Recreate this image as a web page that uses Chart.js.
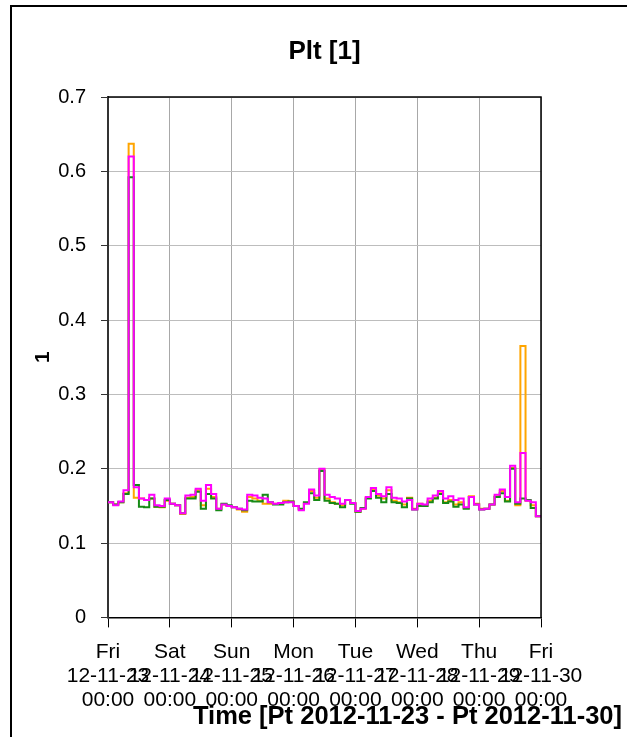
<!DOCTYPE html>
<html lang="en">
<head>
<meta charset="UTF-8">
<title>Plt [1]</title>
<script src="https://cdn.jsdelivr.net/npm/chart.js"></script>
<style>
    body {
        margin: 0;
        padding: 0;
        background: #fff;
        font-family: "Liberation Sans", Arial, sans-serif;
    }
    .frame {
        position: absolute;
        left: 10px;
        top: 5px;
        width: 700px;
        height: 800px;
        border-left: 2px solid #000;
        border-top: 2px solid #000;
    }
    #pltChart {
        position: absolute;
        left: 0;
        top: 0;
    }
</style>
</head>
<body>

<div class="frame"></div>
<canvas id="pltChart" width="627" height="737"></canvas>

<script>
    // x axis: one tick per day, hours since Fri 2012-11-23 00:00
    const dayNames = ['Fri', 'Sat', 'Sun', 'Mon', 'Tue', 'Wed', 'Thu', 'Fri'];
    const dayDates = ['12-11-23', '12-11-24', '12-11-25', '12-11-26', '12-11-27', '12-11-28', '12-11-29', '12-11-30'];
    const dayTimes = ['00:00', '00:00', '00:00', '00:00', '00:00', '00:00', '00:00', '00:00'];
    const stepHours = 2; // Plt is computed every 2 hours

    // Plt values per 2h interval (84 intervals)
    const pltOrange = [
        0.155, 0.152, 0.155, 0.167, 0.637, 0.161, 0.160, 0.158, 0.160, 0.149, 0.148, 0.157,
        0.153, 0.151, 0.139, 0.161, 0.162, 0.171, 0.151, 0.173, 0.162, 0.146, 0.152, 0.150,
        0.148, 0.145, 0.142, 0.162, 0.160, 0.157, 0.153, 0.153, 0.153, 0.153, 0.157, 0.156,
        0.150, 0.145, 0.154, 0.170, 0.161, 0.199, 0.160, 0.155, 0.153, 0.151, 0.158, 0.154,
        0.142, 0.146, 0.161, 0.172, 0.164, 0.160, 0.171, 0.157, 0.155, 0.152, 0.161, 0.146,
        0.153, 0.151, 0.157, 0.161, 0.169, 0.155, 0.158, 0.152, 0.155, 0.147, 0.163, 0.153,
        0.146, 0.146, 0.152, 0.163, 0.170, 0.157, 0.201, 0.151, 0.365, 0.157, 0.151, 0.136
    ];
    const pltMagenta = [
        0.155, 0.151, 0.156, 0.171, 0.620, 0.175, 0.160, 0.158, 0.165, 0.151, 0.150, 0.160,
        0.153, 0.151, 0.140, 0.164, 0.165, 0.173, 0.157, 0.178, 0.166, 0.146, 0.152, 0.150,
        0.148, 0.146, 0.145, 0.165, 0.164, 0.161, 0.160, 0.155, 0.153, 0.154, 0.155, 0.155,
        0.150, 0.144, 0.153, 0.172, 0.164, 0.200, 0.165, 0.162, 0.160, 0.153, 0.158, 0.154,
        0.143, 0.146, 0.162, 0.174, 0.166, 0.163, 0.175, 0.161, 0.160, 0.156, 0.158, 0.145,
        0.153, 0.152, 0.160, 0.164, 0.170, 0.160, 0.163, 0.158, 0.160, 0.148, 0.162, 0.152,
        0.145, 0.146, 0.152, 0.165, 0.172, 0.162, 0.204, 0.155, 0.221, 0.157, 0.155, 0.136
    ];
    const pltGreen = [
        0.155, 0.152, 0.155, 0.166, 0.592, 0.178, 0.149, 0.148, 0.160, 0.149, 0.149, 0.158,
        0.153, 0.151, 0.140, 0.160, 0.160, 0.169, 0.146, 0.166, 0.160, 0.144, 0.153, 0.151,
        0.148, 0.146, 0.144, 0.157, 0.156, 0.156, 0.165, 0.155, 0.152, 0.152, 0.155, 0.156,
        0.150, 0.146, 0.155, 0.167, 0.158, 0.197, 0.157, 0.154, 0.153, 0.148, 0.158, 0.153,
        0.142, 0.147, 0.160, 0.170, 0.161, 0.155, 0.166, 0.155, 0.154, 0.148, 0.160, 0.145,
        0.150, 0.150, 0.155, 0.160, 0.166, 0.154, 0.156, 0.149, 0.152, 0.146, 0.162, 0.152,
        0.145, 0.146, 0.152, 0.162, 0.167, 0.156, 0.200, 0.153, 0.160, 0.158, 0.147, 0.136
    ];

    const fontFamily = '"Liberation Sans", Arial, sans-serif';

    // value i holds from i*stepHours until the next interval; repeat the last one to close the week
    function toSteps(values) {
        const pts = values.map((v, i) => ({ x: i * stepHours, y: v }));
        pts.push({ x: values.length * stepHours, y: values[values.length - 1] });
        return pts;
    }

    // black box on the top and right sides of the plot area
    const plotFrame = {
        id: 'plotFrame',
        afterDraw(chart) {
            const { ctx, chartArea } = chart;
            ctx.save();
            ctx.strokeStyle = '#000';
            ctx.lineWidth = 1.5;
            ctx.beginPath();
            ctx.moveTo(chartArea.left, chartArea.top);
            ctx.lineTo(chartArea.right, chartArea.top);
            ctx.lineTo(chartArea.right, chartArea.bottom);
            ctx.stroke();
            ctx.restore();
        }
    };

    const ctx = document.getElementById('pltChart').getContext('2d');
    const chart = new Chart(ctx, {
        type: 'line',
        data: {
            datasets: [
                { label: 'L2', data: toSteps(pltMagenta), borderColor: '#ff00ff' },
                { label: 'L3', data: toSteps(pltGreen), borderColor: '#168a16' },
                { label: 'L1', data: toSteps(pltOrange), borderColor: '#ffa500' }
            ]
        },
        options: {
            responsive: false,
            animation: false,
            devicePixelRatio: 1,
            layout: { padding: { left: 0, right: 5, top: 0, bottom: 0 } },
            elements: {
                line: { stepped: true, borderWidth: 2, tension: 0, fill: false },
                point: { radius: 0 }
            },
            plugins: {
                legend: { display: false },
                tooltip: { enabled: false },
                title: {
                    display: true,
                    text: 'Plt [1]',
                    fullSize: false,
                    color: '#000',
                    font: { family: fontFamily, size: 26, weight: 'bold', lineHeight: 1.2 },
                    padding: { top: 36.4, bottom: 29.4 }
                },
                subtitle: {
                    // negative top padding lets the axis title sit over the last tick row, as in the original
                    display: true,
                    position: 'bottom',
                    align: 'end',
                    text: 'Time [Pt 2012-11-23 - Pt 2012-11-30]',
                    color: '#000',
                    font: { family: fontFamily, size: 25.5, weight: 'bold', lineHeight: 1.2 },
                    padding: { top: -14, bottom: 5 }
                }
            },
            scales: {
                x: {
                    type: 'linear',
                    position: 'bottom',
                    min: 0,
                    max: dayNames.length * 24 - 24,
                    afterFit(scale) { scale.height = 98; },
                    ticks: {
                        stepSize: 24,
                        autoSkip: false,
                        maxRotation: 0,
                        minRotation: 0,
                        padding: 13,
                        color: '#000',
                        font: { family: fontFamily, size: 21, lineHeight: 24 / 21 },
                        callback: (value) => {
                            const k = Math.round(value / 24);
                            return [dayNames[k], dayDates[k], dayTimes[k]];
                        }
                    },
                    grid: { color: '#a8a8a8', lineWidth: 1, tickColor: '#000', tickLength: 10 },
                    border: { display: true, color: '#000', width: 1.5 }
                },
                y: {
                    position: 'left',
                    min: 0,
                    max: 0.7,
                    afterFit(scale) { scale.width = 108; },
                    ticks: {
                        stepSize: 0.1,
                        padding: 15,
                        color: '#000',
                        font: { family: fontFamily, size: 20 },
                        callback: (value) => value === 0 ? '0' : value.toFixed(1)
                    },
                    title: {
                        display: true,
                        text: '1',
                        color: '#000',
                        font: { family: fontFamily, size: 21, weight: 'bold', lineHeight: 1.2 },
                        padding: { top: 30.4, bottom: 0 }
                    },
                    grid: { color: '#bdbdbd', lineWidth: 1, tickColor: '#333', tickLength: 7 },
                    border: { display: true, color: '#333', width: 2 }
                },
                yRight: {
                    position: 'right',
                    min: 0,
                    max: 0.7,
                    afterFit(scale) { scale.width = 81; },
                    ticks: { display: false },
                    grid: { display: false, drawTicks: false },
                    border: { display: false }
                }
            }
        },
        plugins: [plotFrame]
    });
</script>

</body>
</html>
